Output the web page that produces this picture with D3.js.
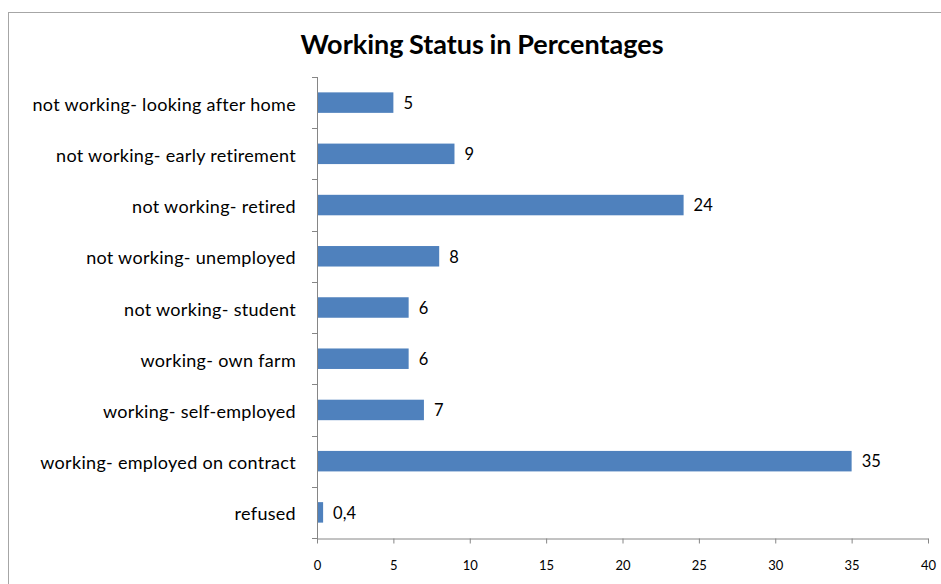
<!DOCTYPE html>
<html>
<head>
<meta charset="utf-8">
<script src="https://cdn.jsdelivr.net/npm/d3@7"></script>
<style>
  html, body { margin: 0; padding: 0; background: #fff; }
  svg { display: block; font-family: Lato, "Open Sans", sans-serif; }
</style>
</head>
<body>
<svg id="chart" width="941" height="584"></svg>
<script>
// Working status categories, top to bottom
const categories = [
  "not working- looking after home",
  "not working- early retirement",
  "not working- retired",
  "not working- unemployed",
  "not working- student",
  "working- own farm",
  "working- self-employed",
  "working- employed on contract",
  "refused"
];
const values = [5, 9, 24, 8, 6, 6, 7, 35, 0.4];
const valueLabels = ["5", "9", "24", "8", "6", "6", "7", "35", "0,4"];
const xTicks = [0, 5, 10, 15, 20, 25, 30, 35, 40];

const svg = d3.select("#chart");
const plot = { left: 317, right: 928, top: 77, bottom: 538 };

// Outer chart frame
svg.append("rect")
  .attr("x", 8.5).attr("y", 12.5)
  .attr("width", 960).attr("height", 620)
  .attr("fill", "none").attr("stroke", "#a6a6a6").attr("stroke-width", 1);

svg.append("text")
  .attr("x", 482).attr("y", 54)
  .attr("text-anchor", "middle")
  .attr("font-size", 27).attr("font-weight", "bold")
  .attr("word-spacing", -1)
  .attr("fill", "#000")
  .text("Working Status in Percentages");

const x = d3.scaleLinear().domain([0, 40]).range([plot.left, plot.right]);
const y = d3.scaleBand().domain(categories).range([plot.top, plot.bottom]).paddingInner(0.6).paddingOuter(0.3);
const yBand = d3.scaleBand().domain(categories).range([plot.top, plot.bottom]);

// Bars
svg.append("g").selectAll("rect")
  .data(categories)
  .join("rect")
  .attr("x", x(0))
  .attr("y", d => y(d))
  .attr("width", (d, i) => x(values[i]) - x(0))
  .attr("height", y.bandwidth())
  .attr("fill", "#4f81bd");

// Value labels
svg.append("g").selectAll("text")
  .data(categories)
  .join("text")
  .attr("x", (d, i) => x(values[i]) + 10)
  .attr("y", d => y(d) + y.bandwidth() / 2)
  .attr("dy", "0.38em")
  .attr("font-size", 16.5)
  .attr("fill", "#000")
  .text((d, i) => valueLabels[i]);

// Category axis
const yAxisG = svg.append("g");
yAxisG.append("line")
  .attr("x1", plot.left + 0.5).attr("x2", plot.left + 0.5)
  .attr("y1", plot.top).attr("y2", plot.bottom + 4)
  .attr("stroke", "#868686");
const bandEdges = categories.map(c => yBand(c)).concat([plot.bottom]);
yAxisG.selectAll("line.tick")
  .data(bandEdges)
  .join("line")
  .attr("class", "tick")
  .attr("x1", plot.left - 5).attr("x2", plot.left + 0.5)
  .attr("y1", d => Math.round(d) + 0.5).attr("y2", d => Math.round(d) + 0.5)
  .attr("stroke", "#868686");
yAxisG.selectAll("text")
  .data(categories)
  .join("text")
  .attr("x", 296)
  .attr("y", d => yBand(d) + yBand.bandwidth() / 2)
  .attr("dy", "0.45em")
  .attr("text-anchor", "end")
  .attr("font-size", 18)
  .attr("letter-spacing", 0.3)
  .attr("fill", "#000")
  .text(d => d);

// Value axis
const xAxis = d3.axisBottom(x).tickValues(xTicks).tickSize(5).tickPadding(17).tickFormat(d3.format("d"));
const xAxisG = svg.append("g")
  .attr("transform", `translate(0,${plot.bottom + 0.5})`)
  .call(xAxis);
xAxisG.select(".domain").attr("stroke", "#868686").attr("d", `M${plot.left},0.5H${plot.right + 0.5}`);
xAxisG.selectAll(".tick line").attr("stroke", "#868686");
xAxisG.selectAll(".tick text")
  .attr("font-size", 13)
  .attr("font-family", "Lato, 'Open Sans', sans-serif")
  .attr("fill", "#000");
</script>
</body>
</html>
